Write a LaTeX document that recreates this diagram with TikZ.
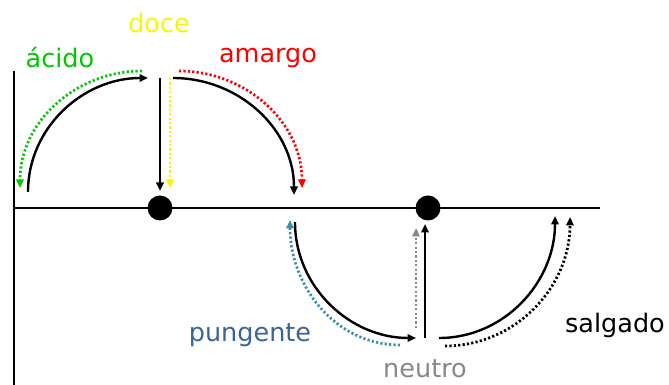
\documentclass[tikz,border=0pt]{standalone}
\usepackage{fontspec}
\setmainfont{DejaVu Sans}
\usetikzlibrary{arrows.meta}
\definecolor{cgreen}{RGB}{0,200,0}
\definecolor{cyellow}{RGB}{250,245,0}
\definecolor{cred}{RGB}{255,0,0}
\definecolor{cblue}{RGB}{58,100,150}
\definecolor{cteal}{RGB}{60,140,170}
\definecolor{cgray}{RGB}{136,136,136}
\tikzset{
  solidarr/.style={line width=2.4pt, -{Triangle[length=8.5pt,width=7.5pt]}},
  dotarr/.style={line width=2.7pt, dash pattern=on 2.2pt off 2.2pt, -{Triangle[length=8.5pt,width=7.5pt]}},
  lbl/.style={anchor=base, inner sep=0pt, font=\fontsize{25.5}{30}\selectfont},
  dotnode/.style={circle, fill=black, inner sep=0pt, minimum size=25pt}
}
\begin{document}
\begin{tikzpicture}[x=1pt,y=1pt]
\useasboundingbox (0,0) rectangle (669,385);
% axes
\coordinate (vt) at (14,314);
\coordinate (vb) at (14,0);
\coordinate (hl) at (14,177);
\coordinate (hr) at (600,177);
\draw[line width=2.4pt] (vt) -- (vb);
\draw[line width=2.4pt] (hl) -- (hr);
\node[dotnode] (d1) at (160,177) {};
\node[dotnode] (d2) at (428,177) {};
% acido
\coordinate (a1) at (28,193);
\coordinate (a2) at (148,307);
\draw[solidarr] (a1) to[out=90,in=180] (a2);
\coordinate (g1) at (142,314);
\coordinate (g2) at (20,197);
\draw[dotarr, cgreen] (g1) to[out=180,in=90] (g2);
% doce
\coordinate (b1) at (160,307);
\coordinate (b2) at (160,194);
\draw[solidarr] (b1) -- (b2);
\coordinate (y1) at (170,307);
\coordinate (y2) at (170,197);
\draw[dotarr, cyellow] (y1) -- (y2);
% amargo
\coordinate (m1) at (173,307);
\coordinate (m2) at (294,190);
\draw[solidarr] (m1) to[out=0,in=90] (m2);
\coordinate (r1) at (179,314);
\coordinate (r2) at (302,197);
\draw[dotarr, cred] (r1) to[out=0,in=90] (r2);
% pungente
\coordinate (p1) at (295,163);
\coordinate (p2) at (416,47);
\draw[solidarr] (p1) to[out=-90,in=180] (p2);
\coordinate (t1) at (400,40);
\coordinate (t2) at (290,165);
\draw[dotarr, cteal] (t1) to[out=180,in=-90] (t2);
% neutro
\coordinate (n1) at (425,47);
\coordinate (n2) at (425,161);
\draw[solidarr] (n1) -- (n2);
\coordinate (q1) at (416,57);
\coordinate (q2) at (416,157);
\draw[dotarr, cgray] (q1) -- (q2);
% salgado
\coordinate (s1) at (439,47);
\coordinate (s2) at (555,169);
\draw[solidarr] (s1) to[out=0,in=-90] (s2);
\coordinate (k1) at (445,39);
\coordinate (k2) at (570,168);
\draw[dotarr, black] (k1) to[out=0,in=-90] (k2);
% labels
\node[lbl, text=cgreen] (lacido) at (60,317) {ácido};
\node[lbl, text=cyellow] (ldoce) at (159,352) {doce};
\node[lbl, text=cred] (lamargo) at (268,322) {amargo};
\node[lbl, text=cblue] (lpung) at (250,43) {pungente};
\node[lbl, text=cgray] (lneutro) at (425,7) {neutro};
\node[lbl, text=black] (lsalg) at (615,52) {salgado};
\end{tikzpicture}
\end{document}
